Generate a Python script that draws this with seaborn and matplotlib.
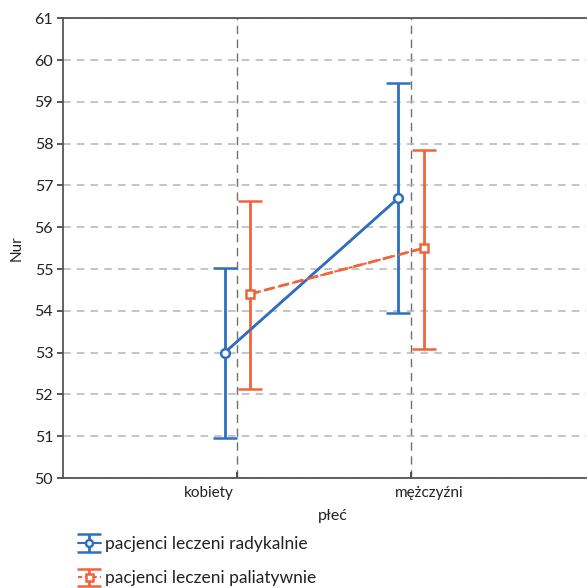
import matplotlib
matplotlib.use("Agg")
import matplotlib.pyplot as plt
import matplotlib.transforms as mtransforms
import seaborn as sns
import pandas as pd
import numpy as np

categories = ["kobiety", "mężczyźni"]
groups = ["pacjenci leczeni radykalnie", "pacjenci leczeni paliatywnie"]
radical_mean = [53.0, 56.7]
radical_low = [50.95, 53.95]
radical_high = [55.02, 59.45]
palliative_mean = [54.4, 55.5]
palliative_low = [52.12, 53.08]
palliative_high = [56.63, 57.85]

sns.set_theme(style="white")
plt.rcParams['font.family'] = ['Lato', 'DejaVu Sans']

colors = {groups[0]: "#2f6fc2", groups[1]: "#f1643b"}
offsets = {groups[0]: -0.07, groups[1]: 0.075}
markers = {groups[0]: "o", groups[1]: "s"}

rows = []
for g, m, lo, hi in [(groups[0], radical_mean, radical_low, radical_high),
                     (groups[1], palliative_mean, palliative_low, palliative_high)]:
    for i, c in enumerate(categories):
        rows.append({"grupa": g, "płeć": c, "x": i + offsets[g], "Nur": m[i],
                     "lo": lo[i], "hi": hi[i]})
df = pd.DataFrame(rows)

fig = plt.figure(figsize=(5.88, 5.88), dpi=100)
ax = fig.add_axes([0.107, 0.187, 0.89, 0.782])

sns.lineplot(data=df, x="x", y="Nur", hue="grupa", style="grupa",
             palette=colors, dashes={groups[0]: "", groups[1]: (3.5, 2)},
             markers=False, linewidth=2, legend=False, ax=ax, zorder=3)

handles = []
for g in groups:
    d = df[df["grupa"] == g]
    eb = ax.errorbar(d["x"], d["Nur"],
                     yerr=[d["Nur"] - d["lo"], d["hi"] - d["Nur"]],
                     fmt=markers[g], color=colors[g], ecolor=colors[g],
                     elinewidth=2, capsize=8.5, capthick=2,
                     markersize=6.3, markerfacecolor="white",
                     markeredgewidth=1.8, zorder=4,
                     linestyle="-" if g == groups[0] else (0, (2, 1.5)))
    handles.append(eb)

ax.set_xlim(-1, 2.01)
ax.set_ylim(50, 61)
ax.set_yticks(np.arange(50, 62, 1))
ax.set_xticks(range(len(categories)))
ax.set_xticklabels(categories, fontsize=11)
ax.tick_params(axis="y", labelsize=11.5, length=4, color="#444444", direction="out", left=True, pad=3)
ax.tick_params(axis="x", length=4, color="#444444", direction="in", bottom=True, pad=6)
for t in ax.get_yticklabels():
    t.set_color("#222222")
xl = ax.get_xticklabels()
for t in xl:
    t.set_color("#222222")
# label placement as in the reference
xl[0].set_horizontalalignment("right")
xl[0].set_transform(xl[0].get_transform() + mtransforms.ScaledTranslation(-3 / 100, 0, fig.dpi_scale_trans))
xl[1].set_transform(xl[1].get_transform() + mtransforms.ScaledTranslation(19 / 100, 0, fig.dpi_scale_trans))

ax.yaxis.grid(True, linestyle=(0, (5, 4)), color="#b5b5b5", linewidth=1.1)
ax.xaxis.grid(True, linestyle=(0, (6, 4)), color="#707070", linewidth=1.0)
ax.set_axisbelow(True)

for s in ["left", "top", "bottom"]:
    ax.spines[s].set_color("#555555")
    ax.spines[s].set_linewidth(1.3)
ax.spines["right"].set_visible(False)

ax.set_ylabel("Nur", fontsize=11, color="#222222", labelpad=8)
ax.set_xlabel("płeć", fontsize=11.5, color="#222222")
ax.xaxis.set_label_coords((333 - 63) / 523, -0.068)

leg = fig.legend(handles, groups, loc="upper left", bbox_to_anchor=(0.118, 0.103),
                 frameon=False, fontsize=12.5, handlelength=1.3, handletextpad=0.25,
                 labelspacing=1.05, borderpad=0, markerscale=0.8)
for t in leg.get_texts():
    t.set_color("#222222")

fig.savefig("out.png", dpi=100)
